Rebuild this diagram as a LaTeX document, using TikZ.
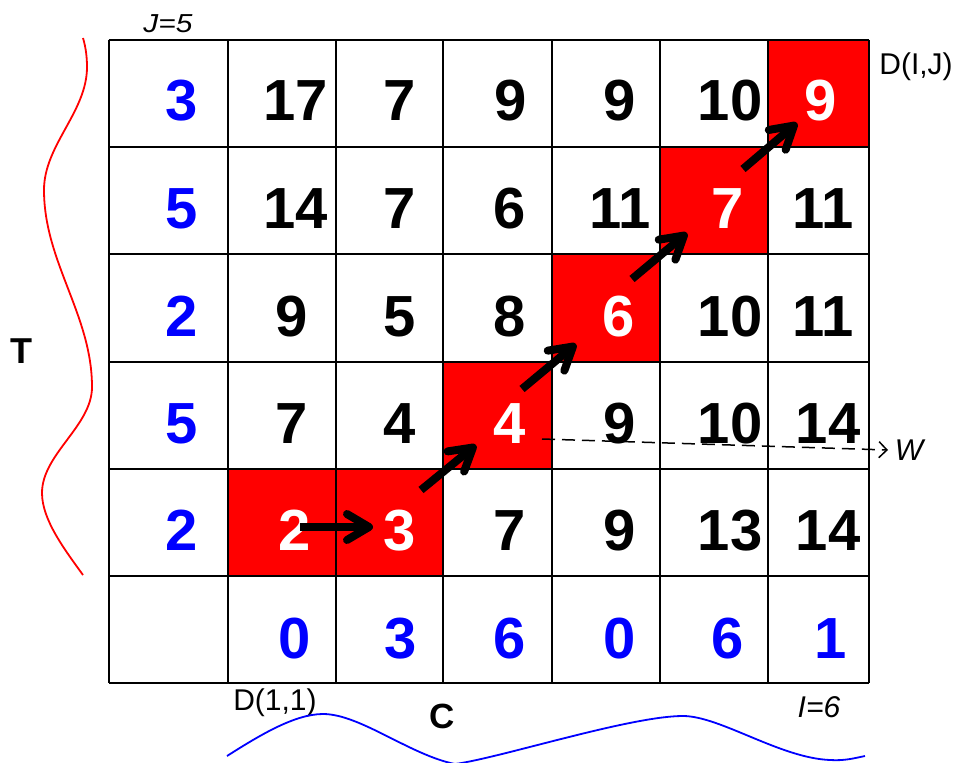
\documentclass[tikz,border=0pt]{standalone}
\usepackage{fontspec}
\setmainfont{Liberation Sans}
\usetikzlibrary{arrows.meta}
\definecolor{pathred}{RGB}{255,0,0}
\definecolor{valblue}{RGB}{0,0,255}
\begin{document}
\begin{tikzpicture}[x=1pt,y=-1pt,
  num/.style={font=\fontsize{58}{58}\selectfont\bfseries, anchor=base, inner sep=0pt},
  bnum/.style={num, text=valblue},
  wnum/.style={num, text=white},
  lbl/.style={font=\fontsize{30}{30}\selectfont, anchor=base, inner sep=0pt},
  ilbl/.style={lbl, font=\fontsize{30}{30}\selectfont\itshape},
  axis/.style={font=\fontsize{35}{35}\selectfont\bfseries, anchor=base, inner sep=0pt},
  gridline/.style={draw=black, line width=2pt},
  redcell/.style={fill=pathred, draw=none},
  pathstep/.style={line width=8pt, line cap=butt, -{Straight Barb[length=22pt, width=26pt, round]}},
  warp/.style={line width=1.5pt, dash pattern=on 13pt off 7pt, -{Straight Barb[length=8pt, width=16pt]}},
  wave/.style={line width=1.8pt}
]
\clip (0,0) rectangle (957,762);
% red path cells
\fill[redcell] (228,469) rectangle (336,576);
\fill[redcell] (336,469) rectangle (443,576);
\fill[redcell] (443,362) rectangle (552,469);
\fill[redcell] (552,254) rectangle (660,362);
\fill[redcell] (660,147) rectangle (768,254);
\fill[redcell] (768,40) rectangle (869,147);
% grid
\foreach \gx in {108.5,228,336,443,552,660,768,869} \draw[gridline] (\gx,40) -- (\gx,683);
\foreach \gy in {40,147,254,362,469,576,683} \draw[gridline] (108.5,\gy) -- (869,\gy);
% row 1
\node[bnum] (n10) at (182,121) {3};
\node[num] (n11) at (296,121) {17};
\node[num] (n12) at (400,121) {7};
\node[num] (n13) at (511,121) {9};
\node[num] (n14) at (620,121) {9};
\node[num] (n15) at (730,121) {10};
\node[wnum] (n16) at (821,121) {9};
% row 2
\node[bnum] (n20) at (182,228) {5};
\node[num] (n21) at (296,228) {14};
\node[num] (n22) at (400,228) {7};
\node[num] (n23) at (510,228) {6};
\node[num] (n24) at (620,228) {11};
\node[wnum] (n25) at (728,228) {7};
\node[num] (n26) at (823,228) {11};
% row 3
\node[bnum] (n30) at (182,336) {2};
\node[num] (n31) at (292,336) {9};
\node[num] (n32) at (400,336) {5};
\node[num] (n33) at (510,336) {8};
\node[wnum] (n34) at (619,336) {6};
\node[num] (n35) at (730,336) {10};
\node[num] (n36) at (823,336) {11};
% row 4
\node[bnum] (n40) at (182,443) {5};
\node[num] (n41) at (292,443) {7};
\node[num] (n42) at (400,443) {4};
\node[wnum] (n43) at (510,443) {4};
\node[num] (n44) at (620,443) {9};
\node[num] (n45) at (730,443) {10};
\node[num] (n46) at (828,443) {14};
% row 5
\node[bnum] (n50) at (182,550) {2};
\node[wnum] (n51) at (295,550) {2};
\node[wnum] (n52) at (400,550) {3};
\node[num] (n53) at (510,550) {7};
\node[num] (n54) at (620,550) {9};
\node[num] (n55) at (730,550) {13};
\node[num] (n56) at (828,550) {14};
% row 6
\node[bnum] (n61) at (295,658) {0};
\node[bnum] (n62) at (401,658) {3};
\node[bnum] (n63) at (510,658) {6};
\node[bnum] (n64) at (620,658) {0};
\node[bnum] (n65) at (728,658) {6};
\node[bnum] (n66) at (831,658) {1};
% labels
\node[ilbl, font=\fontsize{26}{26}\selectfont\itshape] (lj) at (168,33) {\scalebox{1.15}[1]{J=5}};
\node[lbl] (ldij) at (916,75) {D(I,J)};
\node[lbl] (ld11) at (275,710) {D(1,1)};
\node[ilbl] (li) at (819,717) {I=6};
\node[ilbl] (lw) at (909,460) {W};
\node[axis, font=\fontsize{36}{36}\selectfont\bfseries] (lt) at (21,363) {T};
\node[axis] (lc) at (442,728) {C};
% warping path arrows
\coordinate (a0) at (300,527); \coordinate (a1) at (373,527);
\coordinate (b0) at (421,490); \coordinate (b1) at (476,445);
\coordinate (c0) at (522,389); \coordinate (c1) at (576,344);
\coordinate (d0) at (632,279); \coordinate (d1) at (687,233);
\coordinate (e0) at (743,169); \coordinate (e1) at (797,123);
\draw[pathstep] (a0) -- (a1);
\draw[pathstep] (b0) -- (b1);
\draw[pathstep] (c0) -- (c1);
\draw[pathstep] (d0) -- (d1);
\draw[pathstep] (e0) -- (e1);
% W pointer
\coordinate (w0) at (542,439);
\coordinate (w1) at (888,450);
\draw[warp] (w0) -- (w1);
% series T (red, left)
\draw[wave, draw=red] (83,38) .. controls (86,48) and (87,58) .. (87,67)
  .. controls (87,112) and (44,145) .. (44,190)
  .. controls (44,262) and (92,315) .. (92,387)
  .. controls (92,426) and (42,454) .. (42,493)
  .. controls (42,520) and (65,550) .. (83,575);
% series C (blue, bottom)
\draw[wave, draw=valblue] (227,756) .. controls (260,735) and (295,714) .. (323,714)
  .. controls (360,714) and (410,755) .. (455,764)
  .. controls (500,758) and (630,716) .. (683,716)
  .. controls (720,716) and (780,758) .. (830,760)
  .. controls (845,761) and (855,758) .. (865,756);
\end{tikzpicture}
\end{document}
